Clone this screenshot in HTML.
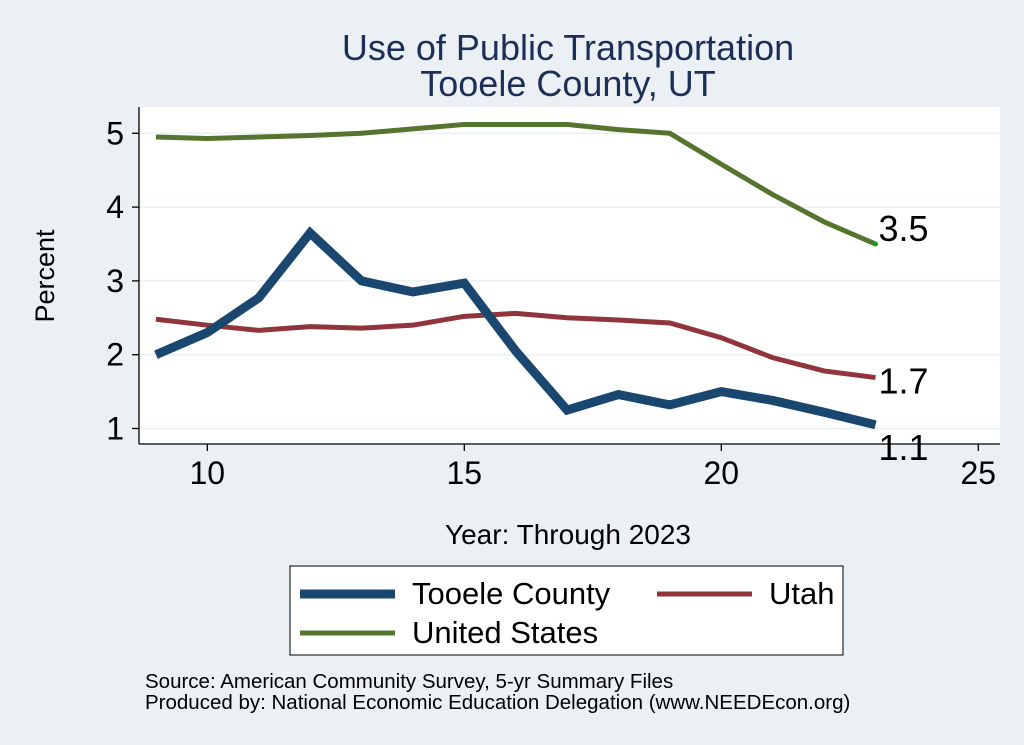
<!DOCTYPE html>
<html><head><meta charset="utf-8"><style>
body{margin:0;background:#eaf0f3;}
svg{display:block;font-family:"Liberation Sans",Arial,sans-serif;}
</style></head><body>
<svg width="1024" height="745">
<rect x="0" y="0" width="1024" height="745" fill="#eaf0f3"/>
<text x="568" y="60" font-size="36" fill="#1e2f57" text-anchor="middle">Use of Public Transportation</text>
<text x="568" y="96" font-size="36" fill="#1e2f57" text-anchor="middle">Tooele County, UT</text>
<rect x="139" y="107" width="861" height="337" fill="#fff"/>
<g id="grid"></g>
<g id="axes"></g>
<g id="series"></g>
<text x="568" y="544" font-size="28" text-anchor="middle">Year: Through 2023</text>
<text transform="translate(54,276) rotate(-90)" font-size="27" text-anchor="middle">Percent</text>
<g>
<rect x="290" y="566" width="553" height="89" fill="#fff" stroke="#000" stroke-width="1"/>
<g><line x1="300" y1="594" x2="395" y2="594" stroke="#1a476f" stroke-width="9"/><text x="412" y="604" font-size="31">Tooele County</text></g>
<g><line x1="657" y1="594" x2="752" y2="594" stroke="#90353b" stroke-width="5"/><text x="769" y="604" font-size="31">Utah</text></g>
<g><line x1="300" y1="633" x2="395" y2="633" stroke="#55752f" stroke-width="5"/><text x="412" y="643" font-size="31">United States</text></g>
</g>
<text x="145" y="688" font-size="20.5">Source: American Community Survey, 5-yr Summary Files</text>
<text x="145" y="709" font-size="20.5">Produced by: National Economic Education Delegation (www.NEEDEcon.org)</text>
</svg>
<script>
const years=[9,10,11,12,13,14,15,16,17,18,19,20,21,22,23];
const tooele=[2.0,2.3,2.77,3.65,3.0,2.85,2.97,2.05,1.25,1.46,1.32,1.5,1.38,1.22,1.05];
const utah=[2.48,2.4,2.33,2.38,2.36,2.4,2.52,2.56,2.5,2.47,2.43,2.23,1.96,1.78,1.69];
const us=[4.95,4.93,4.95,4.97,5.0,5.06,5.12,5.12,5.12,5.05,5.0,4.58,4.17,3.8,3.5];
const xTicks=[10,15,20,25];
const yTicks=[1,2,3,4,5];
const xs=v=>207.3+(v-10)*51.4;
const ys=v=>133.3-(v-5)*73.8;
const NS="http://www.w3.org/2000/svg";
function mk(t,a,p){const e=document.createElementNS(NS,t);for(const k in a)e.setAttribute(k,a[k]);p.appendChild(e);return e;}
const grid=document.getElementById('grid'),axes=document.getElementById('axes'),ser=document.getElementById('series');
yTicks.forEach(v=>{
 const g=mk('line',{x1:139,x2:1000,y1:ys(v),y2:ys(v),stroke:'#eaf0f3','stroke-width':1.5},grid);
 
 
 mk('line',{x1:132,x2:139,y1:ys(v),y2:ys(v),stroke:'#000','stroke-width':1.3},axes);
 const t=mk('text',{x:124,y:ys(v)+11,'font-size':32,'text-anchor':'end'},axes);t.textContent=v;
 
 
});
xTicks.forEach(v=>{
 mk('line',{x1:xs(v),x2:xs(v),y1:444,y2:451,stroke:'#000','stroke-width':1.3},axes);
 const t=mk('text',{x:xs(v),y:484,'font-size':32,'text-anchor':'middle'},axes);t.textContent=v;
 
 
});
mk('line',{x1:139,x2:139,y1:107,y2:444,stroke:'#000','stroke-width':1.3},axes);
mk('line',{x1:139,x2:1000,y1:444,y2:444,stroke:'#000','stroke-width':1.3},axes);
function draw(vals,color,w,name,ly){
 const p=mk('polyline',{points:vals.map((v,i)=>xs(years[i])+','+ys(v)).join(' '),fill:'none',stroke:color,'stroke-width':w,'stroke-linejoin':'miter'},ser);
 
 
 const last=vals[vals.length-1];
 const t=mk('text',{x:xs(years[years.length-1])+3,y:ys(last)+ly,'font-size':36},ser);
 t.textContent=last.toFixed(1);
 
 
}
draw(us,'#55752f',5,'us',-3);
draw(utah,'#90353b',5,'utah',16);
draw(tooele,'#1a476f',9,'tooele',35);
mk('circle',{cx:xs(23),cy:ys(us[us.length-1]),r:2.5,fill:'#1a9c1a'},ser);
</script>
</body></html>
